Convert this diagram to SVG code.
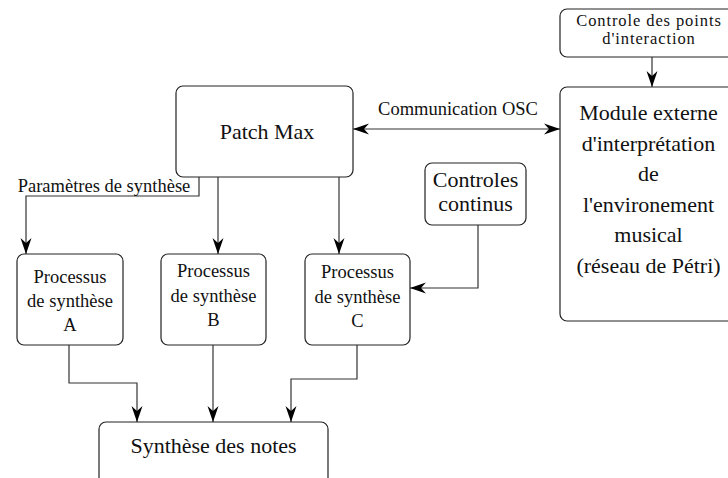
<svg xmlns="http://www.w3.org/2000/svg" width="728" height="478" viewBox="0 0 728 478">
<defs>
<marker id="ah" viewBox="-16 -6 17 12" refX="0" refY="0" markerWidth="17" markerHeight="12" markerUnits="userSpaceOnUse" orient="auto-start-reverse">
<path d="M0,0 L-16,-5.5 L-11,0 L-16,5.5 Z" fill="#000"/>
</marker>
<style>
.box{fill:#fff;stroke:#222;stroke-width:1.2}
.ln{fill:none;stroke:#333;stroke-width:1.2}
text{fill:#111;text-anchor:middle}
.big{font-size:22px}
.sm{font-size:18.5px}
.xs{font-size:16.5px;letter-spacing:0.9px}
</style>
</defs>
<rect width="728" height="478" fill="#fff"/>
<g font-family="'Liberation Serif', 'DejaVu Serif', serif">
<g id="connectors">
<path class="ln" d="M652,57 V87" marker-end="url(#ah)"/>
<path class="ln" d="M353,129 H560" marker-start="url(#ah)" marker-end="url(#ah)"/>
<text class="sm" x="458" y="115">Communication OSC</text>
<path class="ln" d="M199,177 V196 H26 V254" marker-end="url(#ah)"/>
<text class="sm" x="104" y="192">Paramètres de synthèse</text>
<path class="ln" d="M218,177 V254" marker-end="url(#ah)"/>
<path class="ln" d="M339,177 V254" marker-end="url(#ah)"/>
<path class="ln" d="M478,225 V288 H410" marker-end="url(#ah)"/>
<path class="ln" d="M69,345 V383 H137 V422" marker-end="url(#ah)"/>
<path class="ln" d="M213,345 V422" marker-end="url(#ah)"/>
<path class="ln" d="M357,345 V379 H291 V422" marker-end="url(#ah)"/>
</g>
<g id="controle-points">
<rect class="box" x="560" y="9" width="185" height="48" rx="7"/>
<text class="xs" x="649" y="26">Controle des points</text>
<text class="xs" x="649" y="44">d'interaction</text>
</g>
<g id="module-externe">
<rect class="box" x="560" y="87" width="180" height="234" rx="7"/>
<text class="big" x="648.5" y="120">Module externe</text>
<text class="big" x="648.5" y="150.5">d'interprétation</text>
<text class="big" x="648.5" y="181">de</text>
<text class="big" x="648.5" y="211.5">l'environement</text>
<text class="big" x="648.5" y="242">musical</text>
<text class="big" x="648.5" y="272.5">(réseau de Pétri)</text>
</g>
<g id="patch-max">
<rect class="box" x="176" y="86" width="177" height="91" rx="7"/>
<text class="big" x="267" y="139">Patch Max</text>
</g>
<g id="controles-continus">
<rect class="box" x="425" y="163" width="101" height="62" rx="7"/>
<text class="big" x="475.5" y="187">Controles</text>
<text class="big" x="475.5" y="211">continus</text>
</g>
<g id="processus-a">
<rect class="box" x="17" y="254" width="106" height="91" rx="7"/>
<text class="sm" x="70" y="283">Processus</text>
<text class="sm" x="70" y="307">de synthèse</text>
<text class="sm" x="70" y="331">A</text>
</g>
<g id="processus-b">
<rect class="box" x="161" y="254" width="105" height="91" rx="7"/>
<text class="sm" x="213.5" y="277">Processus</text>
<text class="sm" x="213.5" y="302">de synthèse</text>
<text class="sm" x="213.5" y="326">B</text>
</g>
<g id="processus-c">
<rect class="box" x="305" y="254" width="105" height="91" rx="7"/>
<text class="sm" x="357.5" y="278">Processus</text>
<text class="sm" x="357.5" y="303">de synthèse</text>
<text class="sm" x="357.5" y="327">C</text>
</g>
<g id="synthese-notes">
<rect class="box" x="99" y="422" width="229" height="70" rx="7"/>
<text class="big" x="213.5" y="453">Synthèse des notes</text>
</g>
</g>
</svg>
